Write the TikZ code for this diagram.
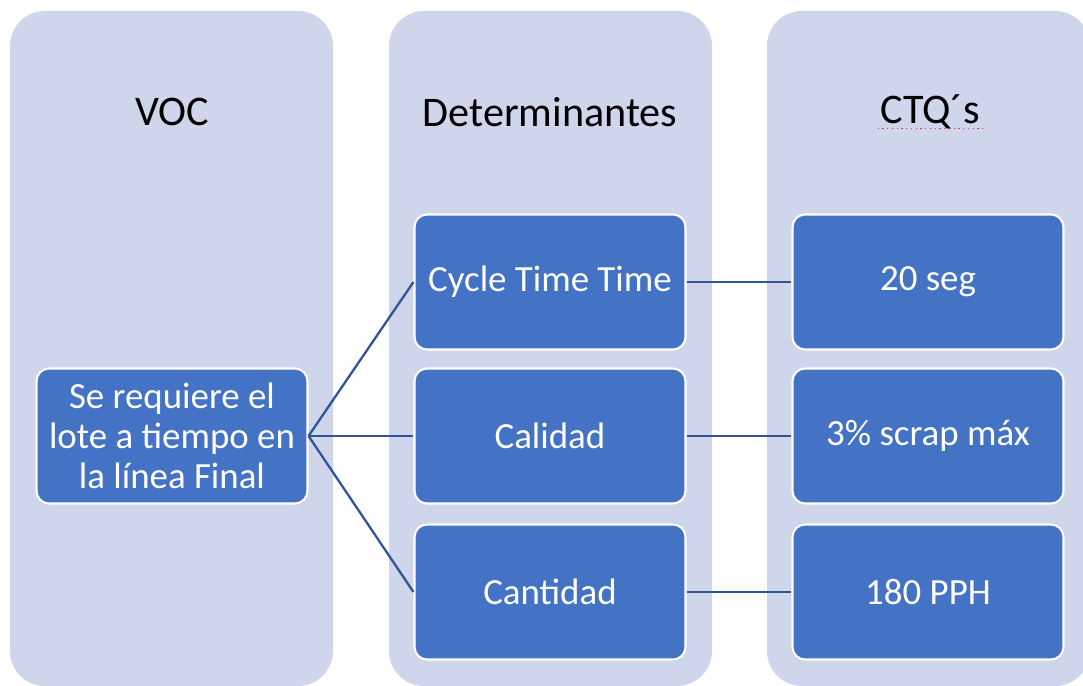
\documentclass[tikz,border=0pt]{standalone}
\usepackage{fontspec}
\setmainfont{Carlito}
\usetikzlibrary{positioning}
\definecolor{colfill}{HTML}{CFD5EA}
\definecolor{boxblue}{HTML}{4472C4}
\definecolor{linkblue}{HTML}{2F5597}
\definecolor{spellred}{HTML}{FF3030}

\begin{document}
\begin{tikzpicture}[x=0.02cm, y=-0.02cm,
  col/.style={fill=colfill, rounded corners=0.7cm},
  blk/.style={draw=white, line width=1.2pt, rounded corners=0.25cm, fill=boxblue, text=white, minimum width=5.42cm, minimum height=2.7cm, font=\fontsize{21}{22.7}\selectfont, align=center, inner sep=2pt},
  hdr/.style={font=\fontsize{24}{28}\selectfont},
  link/.style={linkblue, line width=1.3pt}]
\useasboundingbox (0,0) rectangle (1083,686);
\clip (0,0) rectangle (1083,686);
\fill[col] (10,11) rectangle (333,686);
\fill[col] (389,11) rectangle (712,686);
\fill[col] (767,11) rectangle (1090,686);
\node[hdr] (voc) at (172,112) {VOC};
\node[hdr] (det) at (550,112) {Determinantes};
\node[hdr] (ctq) at (930,112) {CTQ´s};
\draw[spellred, dotted, line width=0.7pt] ([yshift=-3pt,xshift=2pt]ctq.base west) -- ([yshift=-3pt,xshift=-2pt]ctq.base east);
\node[blk] (req) at (172,436) {Se requiere el\\lote a tiempo en\\la línea Final};
\node[blk] (d1) at (550,282) {Cycle Time Time};
\node[blk] (d2) at (550,436) {Calidad};
\node[blk] (d3) at (550,592) {Cantidad};
\node[blk] (c1) at (928,282) {20 seg};
\node[blk] (c2) at (928,436) {3\% scrap máx};
\node[blk] (c3) at (928,592) {180 PPH};
\foreach \d in {d1,d2,d3} \draw[link] (req.east) -- (\d.west);
\foreach \d/\c in {d1/c1,d2/c2,d3/c3} \draw[link] (\d.east) -- (\c.west);
\end{tikzpicture}
\end{document}
